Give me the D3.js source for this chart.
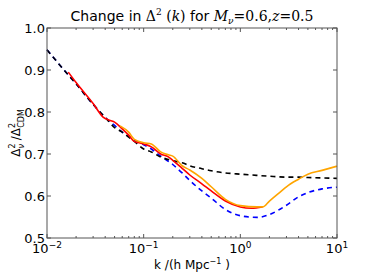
<!DOCTYPE html>
<html>
<head>
<meta charset="utf-8">
<script src="https://cdn.jsdelivr.net/npm/d3@7"></script>
<style>
  body { margin: 0; background: #fff; }
  text { font-family: "DejaVu Sans", sans-serif; }
</style>
</head>
<body>
<div id="chart"></div>
<script>
// values
const kGrid = [0.01, 0.015, 0.02, 0.03, 0.04, 0.05, 0.06, 0.07, 0.08, 0.1, 0.12, 0.15, 0.2, 0.25, 0.3, 0.4, 0.5, 0.7, 1, 1.5, 2, 3, 4, 5, 7, 10];
const blackDash = [0.948, 0.900, 0.867, 0.818, 0.787, 0.763, 0.752, 0.740, 0.730, 0.712, 0.705, 0.693, 0.684, 0.679, 0.672, 0.665, 0.660, 0.655, 0.652, 0.649, 0.647, 0.645, 0.645, 0.644, 0.643, 0.642];
const blueDash = [0.948, 0.900, 0.867, 0.818, 0.787, 0.768, 0.752, 0.742, 0.733, 0.722, 0.712, 0.695, 0.675, 0.655, 0.637, 0.612, 0.595, 0.568, 0.553, 0.549, 0.556, 0.578, 0.598, 0.608, 0.617, 0.621];

const kRed = [0.0166, 0.02, 0.03, 0.038, 0.045, 0.05, 0.06, 0.07, 0.08, 0.1, 0.12, 0.15, 0.18, 0.2, 0.25, 0.3, 0.4, 0.5, 0.7, 1, 1.3, 1.7];
const red = [0.895, 0.870, 0.820, 0.788, 0.780, 0.776, 0.760, 0.745, 0.730, 0.724, 0.717, 0.700, 0.693, 0.685, 0.666, 0.650, 0.629, 0.612, 0.588, 0.574, 0.571, 0.574];

const kOrange = [0.057, 0.07, 0.08, 0.1, 0.12, 0.15, 0.18, 0.2, 0.25, 0.3, 0.4, 0.5, 0.7, 1, 1.5, 1.7, 2, 2.6, 3, 4, 5, 7, 10];
const orange = [0.767, 0.752, 0.735, 0.727, 0.724, 0.705, 0.698, 0.695, 0.672, 0.662, 0.642, 0.622, 0.592, 0.577, 0.574, 0.574, 0.588, 0.610, 0.622, 0.640, 0.652, 0.661, 0.671];

const yTicks = [0.5, 0.6, 0.7, 0.8, 0.9, 1.0];
const xTickExps = [-2, -1, 0, 1];

const W = 374, H = 280;
const margin = { top: 28, right: 37, bottom: 42, left: 47 };

const svg = d3.select("#chart").append("svg")
  .attr("width", W).attr("height", H);

const x = d3.scaleLog().domain([0.01, 10]).range([margin.left, W - margin.right]);
const y = d3.scaleLinear().domain([0.5, 1.0]).range([H - margin.bottom, margin.top]);

const line = d3.line().x(d => x(d[0])).y(d => y(d[1])).curve(d3.curveMonotoneX);

function drawLine(ks, vs, color, dash) {
  svg.append("path")
    .datum(ks.map((k, i) => [k, vs[i]]))
    .attr("fill", "none")
    .attr("stroke", color)
    .attr("stroke-width", 1.6)
    .attr("stroke-dasharray", dash)
    .attr("d", line);
}

drawLine(kGrid, blueDash, "#0000ff", "5,4");
drawLine(kGrid, blackDash, "#000000", "5,4");
drawLine(kRed, red, "#ff0000", null);
drawLine(kOrange, orange, "#ffa500", null);

// frame
svg.append("rect")
  .attr("x", x.range()[0]).attr("y", y.range()[1])
  .attr("width", x.range()[1] - x.range()[0])
  .attr("height", y.range()[0] - y.range()[1])
  .attr("fill", "none").attr("stroke", "#555").attr("stroke-width", 1);

// x axis ticks (inward, bottom and top)
const minorK = [];
for (let e = -2; e < 1; e++) for (let m = 2; m <= 9; m++) minorK.push(m * Math.pow(10, e));
const majorK = xTickExps.map(e => Math.pow(10, e));

[[y.range()[0], -1], [y.range()[1], 1]].forEach(([yy, dir]) => {
  svg.append("g").selectAll("line").data(majorK).join("line")
    .attr("x1", d => x(d)).attr("x2", d => x(d))
    .attr("y1", yy).attr("y2", yy + dir * 4)
    .attr("stroke", "#555");
  svg.append("g").selectAll("line").data(minorK).join("line")
    .attr("x1", d => x(d)).attr("x2", d => x(d))
    .attr("y1", yy).attr("y2", yy + dir * 2)
    .attr("stroke", "#555");
});

// y axis ticks (inward, left and right)
[[x.range()[0], 1], [x.range()[1], -1]].forEach(([xx, dir]) => {
  svg.append("g").selectAll("line").data(yTicks).join("line")
    .attr("x1", xx).attr("x2", xx + dir * 4)
    .attr("y1", d => y(d)).attr("y2", d => y(d))
    .attr("stroke", "#555");
});

// y tick labels
svg.append("g").selectAll("text").data(yTicks).join("text")
  .attr("x", x.range()[0] - 2).attr("y", d => y(d) + 4.5)
  .attr("text-anchor", "end").attr("font-size", 13)
  .text(d => d.toFixed(1));

// x tick labels 10^e
const xl = svg.append("g").selectAll("text").data(xTickExps).join("text")
  .attr("x", d => x(Math.pow(10, d))).attr("y", H - margin.bottom + 15)
  .attr("text-anchor", "middle").attr("font-size", 13);
xl.append("tspan").text("10");
xl.append("tspan").attr("dy", -5).attr("font-size", 9).text(d => d < 0 ? "\u2212" + (-d) : d);

// x label
const xlab = svg.append("text")
  .attr("x", (x.range()[0] + x.range()[1]) / 2).attr("y", H - 11)
  .attr("text-anchor", "middle").attr("font-size", 12);
xlab.append("tspan").text("k /(h Mpc");
xlab.append("tspan").attr("dy", -5).attr("font-size", 8).text("\u22121");
xlab.append("tspan").attr("dy", 5).text(" )");

// y label
const ylab = svg.append("text")
  .attr("transform", `translate(20,${(y.range()[0] + y.range()[1]) / 2}) rotate(-90)`)
  .attr("text-anchor", "middle").attr("font-size", 12)
  .attr("font-family", "DejaVu Serif, serif");
ylab.append("tspan").text("\u0394");
ylab.append("tspan").attr("font-size", 8).attr("dy", -5).text("2");
ylab.append("tspan").attr("font-size", 8).attr("dx", -5).attr("dy", 9).attr("font-style", "italic").text("\u03bd");
ylab.append("tspan").attr("dy", -4).text(" /\u0394");
ylab.append("tspan").attr("font-size", 8).attr("dy", -5).text("2");
ylab.append("tspan").attr("font-size", 8).attr("dx", -5).attr("dy", 9).text("CDM");

// title
const title = svg.append("text")
  .attr("x", (x.range()[0] + x.range()[1]) / 2).attr("y", 21)
  .attr("text-anchor", "middle").attr("font-size", 14);
title.append("tspan").text("Change in ");
title.append("tspan").attr("font-family", "DejaVu Serif, serif").text("\u0394");
title.append("tspan").attr("font-size", 9).attr("dy", -6).attr("font-family", "DejaVu Serif, serif").text("2");
title.append("tspan").attr("dy", 6).attr("font-family", "DejaVu Serif, serif").text(" (");
title.append("tspan").attr("font-family", "DejaVu Serif, serif").attr("font-style", "italic").text("k");
title.append("tspan").attr("font-family", "DejaVu Serif, serif").text(")");
title.append("tspan").text(" for ");
title.append("tspan").attr("font-family", "DejaVu Serif, serif").attr("font-style", "italic").text("M");
title.append("tspan").attr("font-family", "DejaVu Serif, serif").attr("font-style", "italic").attr("font-size", 9).attr("dy", 3).text("\u03bd");
title.append("tspan").attr("font-family", "DejaVu Serif, serif").attr("dy", -3).text("=0.6,");
title.append("tspan").attr("font-family", "DejaVu Serif, serif").attr("font-style", "italic").text("z");
title.append("tspan").attr("font-family", "DejaVu Serif, serif").text("=0.5");
</script>
</body>
</html>
